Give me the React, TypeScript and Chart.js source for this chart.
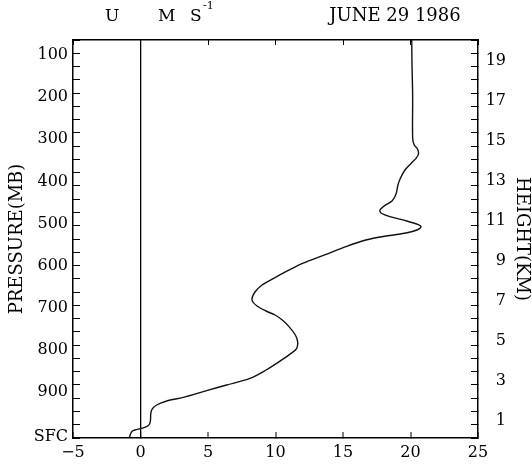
import React, { useEffect, useRef } from 'react';
import { Chart, registerables } from 'chart.js';

Chart.register(...registerables);

// ---- Axis values ----
const U_TICKS = [-5, 0, 5, 10, 15, 20, 25];
const TOP_TICKS = [-5, 0, 5, 10, 15, 20, 25];
const PRESSURE_TICKS = [100, 200, 300, 400, 500, 600, 700, 800, 900];
const SFC_PRESSURE = 1007;
const HEIGHT_TICKS = [1, 3, 5, 7, 9, 11, 13, 15, 17, 19];
const FRAME_DIVISIONS = 30;

const U_MIN = -5;
const U_MAX = 25;
const P_TOP = 64.4;
const P_BOTTOM = 1009.2;
const H_BOTTOM = 0.15;
const H_TOP = 20.05;

// ---- Wind profile (U in m/s versus height in km) ----
const U_WIND = [
  -0.83, -0.74, -0.63, -0.41, 0.09, 0.48, 0.67, 0.74, 0.76, 0.85,
  1.2, 1.94, 3.17, 4.9, 6.38, 8.11, 9.3, 10.28, 11.15, 11.57,
  11.64, 11.47, 11.0, 10.5, 9.96, 9.3, 8.63, 8.26, 8.48, 9.0,
  9.59, 10.53, 12.0, 13.74, 15.22, 16.7, 18.19, 19.67, 20.48, 20.78,
  20.53, 19.72, 18.48, 17.81, 17.74, 18.11, 18.63, 18.93, 19.07, 19.26,
  19.59, 20.04, 20.41, 20.59, 20.52, 20.28, 20.16, 20.16, 20.11, 20.09,
];
const HEIGHT_KM = [
  0.15, 0.35, 0.48, 0.55, 0.63, 0.73, 0.85, 1.05, 1.35, 1.58,
  1.8, 2.0, 2.18, 2.52, 2.8, 3.13, 3.55, 3.97, 4.38, 4.63,
  4.97, 5.3, 5.72, 6.05, 6.3, 6.5, 6.75, 7.05, 7.45, 7.8,
  8.03, 8.38, 8.88, 9.33, 9.72, 10.05, 10.25, 10.4, 10.55, 10.72,
  10.83, 11.0, 11.22, 11.4, 11.55, 11.78, 12.0, 12.35, 12.8, 13.15,
  13.55, 13.88, 14.13, 14.35, 14.6, 14.8, 15.13, 17.2, 18.9, 20.05,
];

const HEADER_LEFT_U = 'U';
const HEADER_UNITS_M = 'M';
const HEADER_UNITS_S = 'S';
const HEADER_UNITS_EXP = '-1';
const HEADER_DATE = 'JUNE 29 1986';

const FONT = '"DejaVu Serif", serif';

const headerPlugin = {
  id: 'headerText',
  afterDraw(chart: any) {
    const { ctx, chartArea } = chart;
    const l = chartArea.left;
    ctx.save();
    ctx.fillStyle = '#000';
    ctx.textBaseline = 'alphabetic';
    ctx.textAlign = 'left';
    ctx.font = `17px ${FONT}`;
    ctx.fillText(HEADER_LEFT_U, l + 32, 21);
    ctx.fillText(HEADER_UNITS_M, l + 85, 21);
    ctx.fillText(HEADER_UNITS_S, l + 117, 21);
    ctx.font = `11px ${FONT}`;
    ctx.fillText(HEADER_UNITS_EXP, l + 130, 9);
    ctx.font = `18px ${FONT}`;
    ctx.textAlign = 'center';
    ctx.fillText(HEADER_DATE, l + 322, 21);
    ctx.restore();
  },
};

const setTicks = (values: number[]) => (scale: any) => {
  scale.ticks = values.map((v) => ({ value: v }));
};

export default function App() {
  const canvasRef = useRef<HTMLCanvasElement | null>(null);

  useEffect(() => {
    if (!canvasRef.current) return;
    Chart.defaults.font.family = FONT;
    Chart.defaults.color = '#000';

    const points = U_WIND.map((u, i) => ({ x: u, y: HEIGHT_KM[i] }));
    const frameTicks = Array.from({ length: FRAME_DIVISIONS + 1 }, (_, i) => i);

    const chart = new Chart(canvasRef.current, {
      type: 'line',
      data: {
        datasets: [
          {
            data: points,
            xAxisID: 'x',
            yAxisID: 'yH',
            borderColor: '#111',
            borderWidth: 1.4,
            pointRadius: 0,
            tension: 0.3,
            fill: false,
          },
        ],
      },
      plugins: [headerPlugin],
      options: {
        animation: false,
        responsive: true,
        maintainAspectRatio: false,
        events: [],
        layout: { padding: { top: 40, left: 0, right: 0, bottom: 0 } },
        plugins: {
          legend: { display: false },
          tooltip: { enabled: false },
          title: { display: false },
        },
        scales: {
          x: {
            type: 'linear',
            position: 'bottom',
            weight: 0,
            min: U_MIN,
            max: U_MAX,
            afterBuildTicks: setTicks(U_TICKS),
            ticks: {
              autoSkip: false,
              maxRotation: 0,
              padding: 11,
              font: { size: 16 },
              color: '#000',
              callback: (v: any) => (Number(v) < 0 ? '\u2212' + Math.abs(Number(v)) : String(v)),
            },
            grid: {
              drawOnChartArea: true,
              color: (c: any) => (c.tick && c.tick.value === 0 ? '#000' : 'rgba(0,0,0,0)'),
              lineWidth: (c: any) => (c.tick && c.tick.value === 0 ? 1.3 : 0),
              drawTicks: true,
              tickLength: -6,
              tickColor: '#000',
              tickWidth: 1,
            },
            border: { display: true, color: '#000', width: 1.5 },
            afterFit: (s: any) => {
              s.height = 26;
            },
          },
          x2: {
            type: 'linear',
            position: 'top',
            weight: 0,
            min: U_MIN,
            max: U_MAX,
            afterBuildTicks: setTicks(TOP_TICKS),
            ticks: { display: false },
            grid: {
              drawOnChartArea: false,
              drawTicks: true,
              tickLength: -5,
              tickColor: '#000',
              tickWidth: 1,
              color: '#000',
            },
            border: { display: true, color: '#000', width: 1.5 },
            afterFit: (s: any) => {
              s.height = 0;
            },
          },
          yTL: {
            type: 'linear',
            position: 'left',
            weight: 0,
            min: 0,
            max: FRAME_DIVISIONS,
            afterBuildTicks: setTicks(frameTicks),
            ticks: { display: false },
            grid: {
              drawOnChartArea: false,
              drawTicks: true,
              tickLength: -7,
              tickColor: '#000',
              tickWidth: 1,
              color: '#000',
            },
            border: { display: true, color: '#000', width: 1.5 },
            afterFit: (s: any) => {
              s.width = 0;
            },
          },
          yP: {
            type: 'linear',
            position: 'left',
            weight: 1,
            reverse: true,
            min: P_TOP,
            max: P_BOTTOM,
            afterBuildTicks: setTicks([...PRESSURE_TICKS, SFC_PRESSURE]),
            ticks: {
              autoSkip: false,
              padding: 5,
              font: { size: 16 },
              color: '#000',
              callback: (v: any) => (Number(v) === SFC_PRESSURE ? 'SFC' : String(v)),
            },
            grid: { display: false, drawTicks: false },
            border: { display: false },
            title: {
              display: true,
              text: 'PRESSURE(MB)',
              font: { size: 18 },
              color: '#000',
              padding: { top: 7, bottom: 0 },
            },
            afterFit: (s: any) => {
              s.width = 73;
            },
          },
          yTR: {
            type: 'linear',
            position: 'right',
            weight: 0,
            min: 0,
            max: FRAME_DIVISIONS,
            afterBuildTicks: setTicks(frameTicks),
            ticks: { display: false },
            grid: {
              drawOnChartArea: false,
              drawTicks: true,
              tickLength: -7,
              tickColor: '#000',
              tickWidth: 1,
              color: '#000',
            },
            border: { display: true, color: '#000', width: 1.5 },
            afterFit: (s: any) => {
              s.width = 0;
            },
          },
          yH: {
            type: 'linear',
            position: 'right',
            weight: 1,
            min: H_BOTTOM,
            max: H_TOP,
            afterBuildTicks: setTicks(HEIGHT_TICKS),
            ticks: {
              autoSkip: false,
              crossAlign: 'far',
              font: { size: 16 },
              color: '#000',
            },
            grid: { display: false, drawTicks: false },
            border: { display: false },
            afterFit: (s: any) => {
              s.width = 28;
            },
          },
          yT: {
            type: 'linear',
            position: 'right',
            weight: 2,
            min: 0,
            max: 1,
            ticks: { display: false },
            grid: { display: false, drawTicks: false },
            border: { display: false },
            title: {
              display: true,
              text: 'HEIGHT(KM)',
              font: { size: 18 },
              color: '#000',
              padding: { top: 0, bottom: 0 },
            },
            afterFit: (s: any) => {
              s.width = 26;
            },
          },
        },
      } as any,
    });

    return () => {
      chart.destroy();
    };
  }, []);

  return (
    <div style={{ position: 'absolute', left: 0, top: 0, width: 532, height: 464 }}>
      <canvas ref={canvasRef} />
    </div>
  );
}
